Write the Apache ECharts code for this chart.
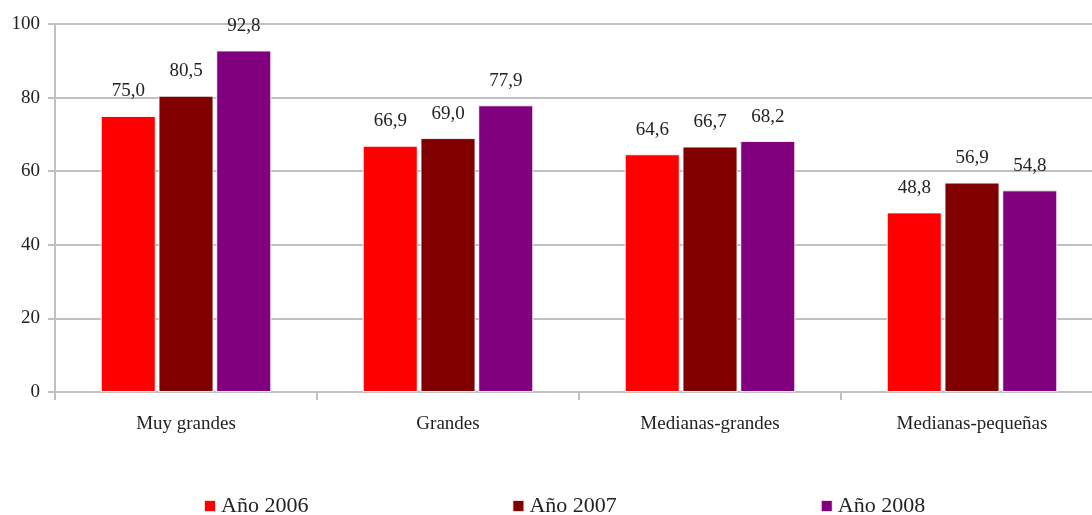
<!DOCTYPE html>
<html><head><meta charset="utf-8">
<script src="https://cdn.jsdelivr.net/npm/echarts@6/dist/echarts.min.js"></script>
<style>html,body{margin:0;padding:0;background:#fff;overflow:hidden;width:1092px;height:515px}#c{width:1103px;height:515px}</style>
</head><body><div id="c"></div>
<script>
var categories = ['Muy grandes', 'Grandes', 'Medianas-grandes', 'Medianas-pequeñas'];
var seriesNames = ['Año 2006', 'Año 2007', 'Año 2008'];
var values2006 = [75.0, 66.9, 64.6, 48.8];
var values2007 = [80.5, 69.0, 66.7, 56.9];
var values2008 = [92.8, 77.9, 68.2, 54.8];
var yTicks = [0, 20, 40, 60, 80, 100];
var colors = ['#FF0000', '#800000', '#800080'];
var FONT = '"Liberation Serif", "DejaVu Serif", serif';
var chart = echarts.init(document.getElementById('c'));
function mk(name, data, color) {
  return {
    name: name, type: 'bar', data: data, barWidth: 55, barGap: '5%',
    itemStyle: { color: color, borderColor: 'rgba(255,255,255,0.85)', borderWidth: 1 },
    label: { show: true, position: 'top', distance: 15, color: '#222', fontFamily: FONT, fontSize: 19,
      formatter: function (p) { return p.value.toFixed(1).replace('.', ','); } }
  };
}
chart.setOption({
  animation: false,
  color: colors,
  grid: { left: 55, top: 24, right: 0, bottom: 123, containLabel: false },
  legend: {
    top: 495, left: 203, padding: 0, itemWidth: 12, itemHeight: 12, itemGap: 203, icon: 'rect',
    textStyle: { fontFamily: FONT, fontSize: 22, color: '#222' },
    data: seriesNames
  },
  xAxis: {
    type: 'category', data: categories,
    axisLine: { lineStyle: { color: '#c0c0c0', width: 2 } },
    axisTick: { show: true, length: 8, lineStyle: { color: '#c0c0c0', width: 2 } },
    axisLabel: { color: '#222', fontFamily: FONT, fontSize: 19, margin: 23 }
  },
  yAxis: {
    type: 'value', min: 0, max: 100, interval: 20,
    axisLine: { show: true, lineStyle: { color: '#c0c0c0', width: 2 } },
    axisTick: { show: true, length: 7, lineStyle: { color: '#c0c0c0', width: 2 } },
    axisLabel: { color: '#222', fontFamily: FONT, fontSize: 19, margin: 15,
      formatter: function (v) { return yTicks.indexOf(v) >= 0 ? String(v) : ''; } },
    splitLine: { show: true, lineStyle: { color: '#c0c0c0', width: 2 } }
  },
  series: [mk(seriesNames[0], values2006, colors[0]), mk(seriesNames[1], values2007, colors[1]), mk(seriesNames[2], values2008, colors[2])]
});
</script></body></html>
